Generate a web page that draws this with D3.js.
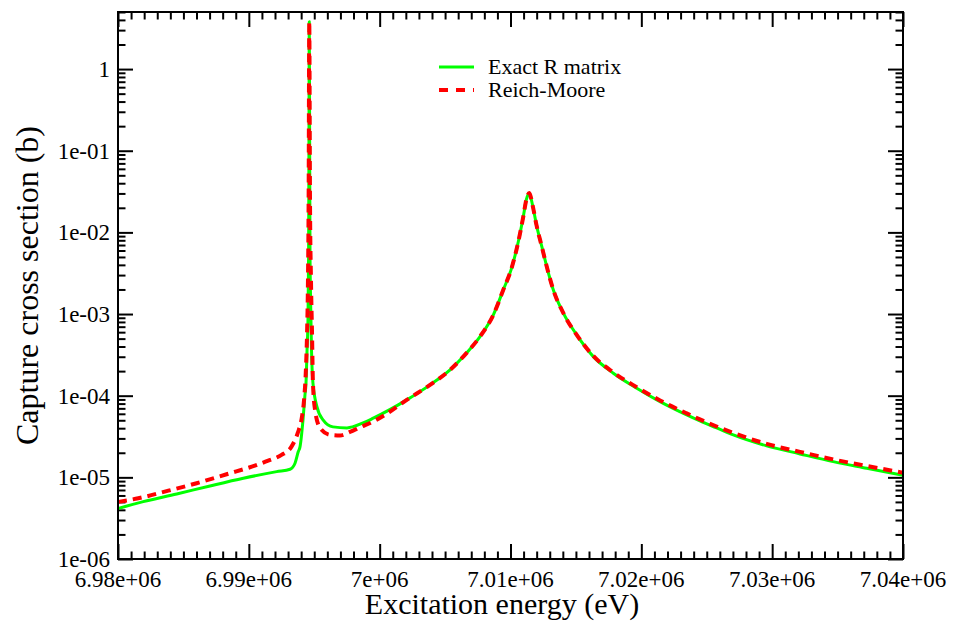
<!DOCTYPE html>
<html>
<head>
<meta charset="utf-8">
<script src="https://cdn.jsdelivr.net/npm/d3@7"></script>
<style>
  html, body { margin: 0; padding: 0; background: #fff; }
  svg { display: block; }
  text { font-family: "Liberation Serif", "Times New Roman", serif; fill: #000; }
</style>
</head>
<body>
<svg id="chart" width="956" height="625"></svg>
<script>
// ---------------- data ----------------
const seriesNames = ["Exact R matrix", "Reich-Moore"];

const energyExact = [
  6980000, 6981930, 6984490, 6987030, 6989580, 6992130, 6993150, 6993530, 6993780, 6993910,
  6994140, 6994290, 6994370, 6994450, 6994520, 6994570, 6994600, 6994620, 6994645, 6994675,
  6994720, 6994790, 6994900, 6995210, 6995670, 6996430, 6997500, 6998730, 6999510, 7002070,
  7003850, 7005380, 7006650, 7007670, 7008690, 7009450, 7010090, 7010600, 7010980, 7011210,
  7011440, 7011680, 7012000, 7012390, 7012770, 7013270, 7014040, 7015060, 7016330, 7017860,
  7019650, 7021430, 7023470, 7024480, 7025760, 7027030, 7029580, 7032130, 7034670, 7037230,
  7040000
];
const sigmaExact = [
  4.15e-6, 5.04e-6, 6.26e-6, 7.85e-6, 9.75e-6, 1.175e-5, 1.257e-5, 1.49e-5, 2.07e-5, 2.36e-5,
  5.05e-5, 1.02e-4, 1.435e-4, 3.64e-4, 8.49e-4, 6.12e-3, 0.240, 3.81, 0.240, 6.12e-3,
  1.49e-3, 3.64e-4, 1.435e-4, 7.29e-5, 5.05e-5, 4.15e-5, 4.03e-5, 4.64e-5, 5.30e-5, 8.88e-5,
  1.357e-4, 2.07e-4, 3.35e-4, 5.30e-4, 9.78e-4, 1.98e-3, 3.68e-3, 7.74e-3, 1.566e-2, 2.51e-2,
  3.03e-2, 2.18e-2, 1.2e-2, 6.72e-3, 3.82e-3, 1.98e-3, 1.026e-3, 5.56e-4, 3.01e-4, 1.887e-4,
  1.236e-4, 8.47e-5, 5.82e-5, 4.91e-5, 4.03e-5, 3.31e-5, 2.43e-5, 1.936e-5, 1.557e-5, 1.293e-5,
  1.06e-5
];

const energyRM = [
  6980000, 6981550, 6983850, 6986010, 6988300, 6990460, 6991480, 6992500, 6993260, 6993740,
  6994060, 6994220, 6994370, 6994450, 6994520, 6994570, 6994620, 6994675, 6994750, 6994830,
  6994900, 6995060, 6995440, 6996200, 6996970, 6997730, 6998500, 6999510, 7000410, 7002070,
  7003850, 7005380, 7006650, 7007670, 7008690, 7009450, 7010090, 7010600, 7010980, 7011210,
  7011440, 7011680, 7012000, 7012390, 7012770, 7013270, 7014040, 7015060, 7016330, 7017860,
  7019650, 7021430, 7023470, 7024480, 7027030, 7029580, 7032130, 7034670, 7037230, 7040000
];
const sigmaRM = [
  5.0e-6, 5.54e-6, 6.87e-6, 8.47e-6, 1.091e-5, 1.391e-5, 1.602e-5, 1.882e-5, 2.38e-5, 3.50e-5,
  5.50e-5, 8.88e-5, 2.25e-4, 5.88e-4, 2.62e-3, 2.51e-2, 3.81, 2.51e-2, 2.62e-3, 5.88e-4,
  1.435e-4, 6.70e-5, 4.03e-5, 3.31e-5, 3.25e-5, 3.60e-5, 4.1e-5, 4.82e-5, 5.82e-5, 8.88e-5,
  1.357e-4, 2.07e-4, 3.35e-4, 5.30e-4, 9.78e-4, 1.98e-3, 3.68e-3, 7.74e-3, 1.566e-2, 2.51e-2,
  3.03e-2, 2.18e-2, 1.2e-2, 6.72e-3, 3.82e-3, 1.98e-3, 1.026e-3, 5.56e-4, 3.07e-4, 1.93e-4,
  1.272e-4, 8.76e-5, 6.07e-5, 5.12e-5, 3.50e-5, 2.57e-5, 2.05e-5, 1.658e-5, 1.38e-5, 1.14e-5
];

const xTickValues = [6980000, 6990000, 7000000, 7010000, 7020000, 7030000, 7040000];
const xTickLabels = ["6.98e+06", "6.99e+06", "7e+06", "7.01e+06", "7.02e+06", "7.03e+06", "7.04e+06"];
const yTickValues = [1e-6, 1e-5, 1e-4, 1e-3, 1e-2, 1e-1, 1];
const yTickLabels = ["1e-06", "1e-05", "1e-04", "1e-03", "1e-02", "1e-01", "1"];

const xTitle = "Excitation energy (eV)";
const yTitle = "Capture cross section (b)";

// ---------------- layout ----------------
const L = 118, R = 903, T = 12, B = 559;
const svg = d3.select("#chart");

const x = d3.scaleLinear().domain([6980000, 7040000]).range([L, R]);
const y = d3.scaleLog().domain([1e-6, 5]).range([B, T]);

// minor ticks
const xMinor = d3.range(6980000, 7040001, 1000).filter(v => v % 10000 !== 0);
const yMinor = [];
for (let k = -6; k <= 0; k++) {
  for (let m = 2; m <= 9; m++) {
    const v = m * Math.pow(10, k);
    if (v <= 5.0001) yMinor.push(v);
  }
}

const major = 15, minor = 7.5;
function styleAxis(g) {
  g.select(".domain").remove();
  g.selectAll("line").attr("stroke", "#000").attr("stroke-width", 2);
}

// bottom
svg.append("g").attr("transform", `translate(0,${B})`)
  .call(d3.axisBottom(x).tickValues(xTickValues).tickSize(-major).tickFormat("")).call(styleAxis);
svg.append("g").attr("transform", `translate(0,${B})`)
  .call(d3.axisBottom(x).tickValues(xMinor).tickSize(-minor).tickFormat("")).call(styleAxis);
// top
svg.append("g").attr("transform", `translate(0,${T})`)
  .call(d3.axisTop(x).tickValues(xTickValues).tickSize(-major).tickFormat("")).call(styleAxis);
svg.append("g").attr("transform", `translate(0,${T})`)
  .call(d3.axisTop(x).tickValues(xMinor).tickSize(-minor).tickFormat("")).call(styleAxis);
// left
svg.append("g").attr("transform", `translate(${L},0)`)
  .call(d3.axisLeft(y).tickValues(yTickValues).tickSize(-major).tickFormat("")).call(styleAxis);
svg.append("g").attr("transform", `translate(${L},0)`)
  .call(d3.axisLeft(y).tickValues(yMinor).tickSize(-minor).tickFormat("")).call(styleAxis);
// right
svg.append("g").attr("transform", `translate(${R},0)`)
  .call(d3.axisRight(y).tickValues(yTickValues).tickSize(-major).tickFormat("")).call(styleAxis);
svg.append("g").attr("transform", `translate(${R},0)`)
  .call(d3.axisRight(y).tickValues(yMinor).tickSize(-minor).tickFormat("")).call(styleAxis);

// tick labels
svg.append("g").selectAll("text").data(xTickValues).join("text")
  .attr("x", d => x(d)).attr("y", 587)
  .attr("text-anchor", "middle").attr("font-size", 23)
  .text((d, i) => xTickLabels[i]);
svg.append("g").selectAll("text").data(yTickValues).join("text")
  .attr("x", L - 8).attr("y", d => y(d)).attr("dy", "0.35em")
  .attr("text-anchor", "end").attr("font-size", 23)
  .text((d, i) => yTickLabels[i]);

// titles
svg.append("text").attr("x", 502).attr("y", 614)
  .attr("text-anchor", "middle").attr("font-size", 30).text(xTitle);
svg.append("text")
  .attr("transform", `translate(38,${(T + B) / 2}) rotate(-90)`)
  .attr("text-anchor", "middle").attr("font-size", 32).text(yTitle);

// curves
svg.append("defs").append("clipPath").attr("id", "clip")
  .append("rect").attr("x", L).attr("y", T).attr("width", R - L).attr("height", B - T);

const line = d3.line().x(d => x(d[0])).y(d => y(d[1])).curve(d3.curveMonotoneX);
const exactData = energyExact.map((e, i) => [e, sigmaExact[i]]);
const rmData = energyRM.map((e, i) => [e, sigmaRM[i]]);

const plot = svg.append("g").attr("clip-path", "url(#clip)");
plot.append("path").datum(exactData).attr("d", line)
  .attr("fill", "none").attr("stroke", "#00ff00").attr("stroke-width", 3)
  .attr("stroke-linejoin", "round");
plot.append("path").datum(rmData).attr("d", line)
  .attr("fill", "none").attr("stroke", "#ff0000").attr("stroke-width", 4)
  .attr("stroke-dasharray", "9,6");

// frame
svg.append("rect").attr("x", L).attr("y", T).attr("width", R - L).attr("height", B - T)
  .attr("fill", "none").attr("stroke", "#000").attr("stroke-width", 2);

// legend
const lg = svg.append("g");
lg.append("line").attr("x1", 439).attr("x2", 474).attr("y1", 67).attr("y2", 67)
  .attr("stroke", "#00ff00").attr("stroke-width", 3);
lg.append("line").attr("x1", 439).attr("x2", 474).attr("y1", 90).attr("y2", 90)
  .attr("stroke", "#ff0000").attr("stroke-width", 4).attr("stroke-dasharray", "9,8");
lg.append("text").attr("x", 488).attr("y", 74).attr("font-size", 22).text(seriesNames[0]);
lg.append("text").attr("x", 488).attr("y", 97).attr("font-size", 22).text(seriesNames[1]);
</script>
</body>
</html>
